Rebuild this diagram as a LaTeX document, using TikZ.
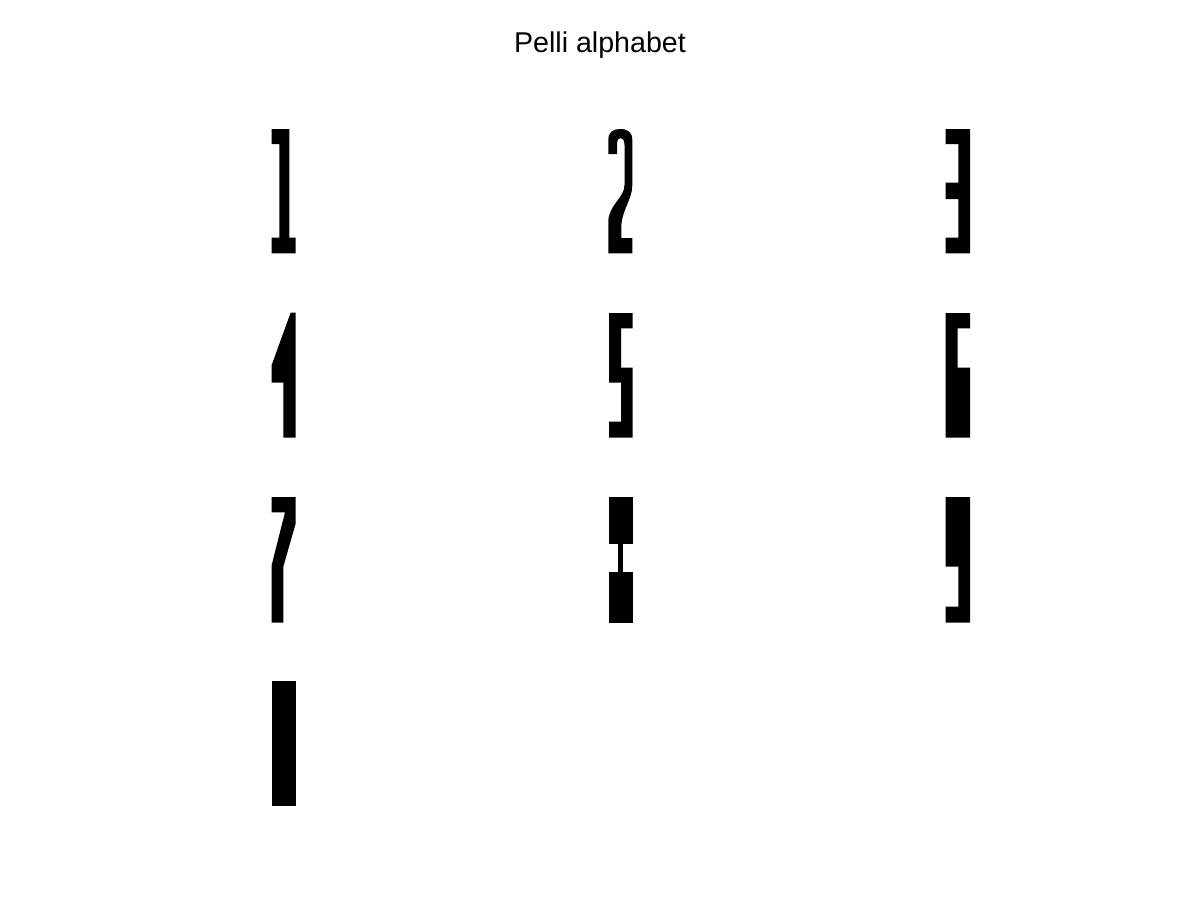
\documentclass[tikz,border=0pt]{standalone}
\usepackage{fontspec}
\setmainfont{Liberation Sans}
\begin{document}
\begin{tikzpicture}[x=1pt,y=-1pt]
\tikzset{glyph/.style={fill=black,draw=none}}
\useasboundingbox (0,0) rectangle (1200,900);
\fill[white] (0,0) rectangle (1200,900);
\node[anchor=base,inner sep=0pt,font=\fontsize{28.6}{32}\selectfont] (title) at (600,52) {Pelli alphabet};
% 1
\begin{scope}[shift={(271.7,129)}]
\fill[glyph] (0,0)--(17.6,0)--(17.6,108.7)--(24,108.7)--(24,124.3)--(0,124.3)--(0,108.7)--(7.6,108.7)--(7.6,15)--(0,15)--cycle;
\end{scope}
% 2
\begin{scope}[shift={(608.3,129)}]
\fill[glyph] (0,25)--(0,11) .. controls (0,3) and (4.7,0) .. (11.7,0) .. controls (19.3,0) and (24,3) .. (24,11)--(24,56) .. controls (24,71) and (13,81) .. (13,99)--(13,109)--(24,109)--(24,124.3)--(0,124.3)--(0,93) .. controls (0,76) and (16.2,69) .. (16.2,56)--(16.2,16) .. controls (16.2,11) and (14.2,9) .. (12.2,9) .. controls (10.2,9) and (8.7,11) .. (8.7,16)--(8.7,25)--cycle;
\end{scope}
% 3
\begin{scope}[shift={(945.7,129)}]
\fill[glyph] (0,0)--(24.3,0)--(24.3,124.3)--(0,124.3)--(0,108.7)--(12.6,108.7)--(12.6,70)--(0,70)--(0,53.7)--(12.6,53.7)--(12.6,15)--(0,15)--cycle;
\end{scope}
% 4
\begin{scope}[shift={(271.7,312.5)}]
\fill[glyph] (19,0)--(24,0)--(24,125.2)--(11.6,125.2)--(11.6,70.2)--(0,70.2)--(0,52.5)--cycle;
\end{scope}
% 5
\begin{scope}[shift={(609,313)}]
\fill[glyph] (0,0)--(23.7,0)--(23.7,15.3)--(12,15.3)--(12,54.7)--(23.7,54.7)--(23.7,124.7)--(0,124.7)--(0,108.7)--(12,108.7)--(12,69.7)--(0,69.7)--cycle;
\end{scope}
% 6
\begin{scope}[shift={(945.7,313)}]
\fill[glyph] (0,0)--(24.3,0)--(24.3,15.3)--(12,15.3)--(12,54.7)--(24.3,54.7)--(24.3,124.7)--(0,124.7)--cycle;
\end{scope}
% 7
\begin{scope}[shift={(271.7,497)}]
\fill[glyph] (0,0)--(24,0)--(24,26.3)--(11.6,69.7)--(11.6,125.7)--(0,125.7)--(0,68)--(13.3,15.3)--(0,15.3)--cycle;
\end{scope}
% 8
\begin{scope}[shift={(609,497)}]
\fill[glyph] (0,0) rectangle (23.7,46.6);
\fill[glyph] (9.3,46) rectangle (14.3,75.5);
\fill[glyph] (0,74.7) rectangle (23.7,125.7);
\end{scope}
% 9
\begin{scope}[shift={(945.7,497)}]
\fill[glyph] (0,0)--(24.3,0)--(24.3,125.7)--(0,125.7)--(0,109.7)--(12.6,109.7)--(12.6,69.7)--(0,69.7)--cycle;
\end{scope}
% 0
\begin{scope}[shift={(271.7,681.3)}]
\fill[glyph] (0,0) rectangle (24,125);
\end{scope}
\end{tikzpicture}
\end{document}
